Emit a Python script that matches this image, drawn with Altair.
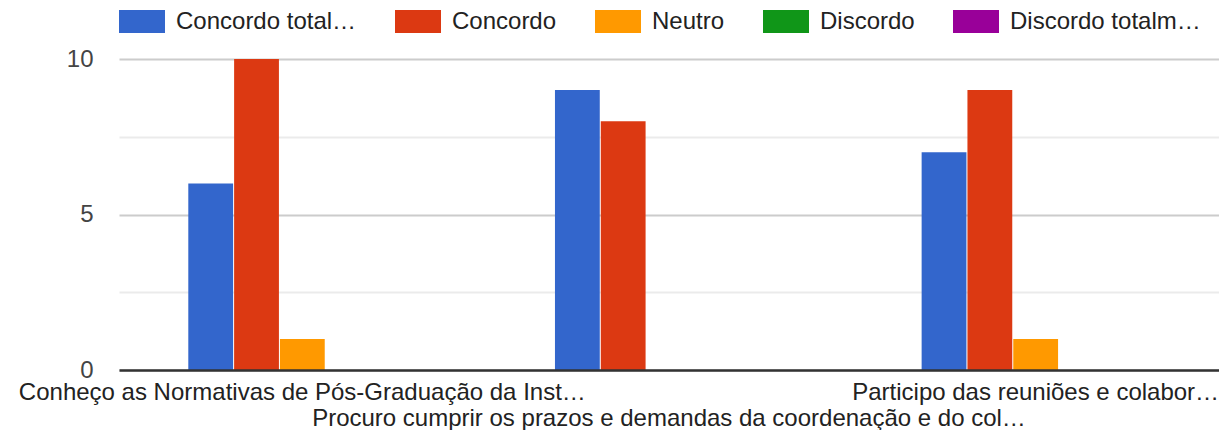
import altair as alt
import pandas as pd

questions = [
    "Conheço as Normativas de Pós-Graduação da Inst…",
    "Procuro cumprir os prazos e demandas da coordenação e do col…",
    "Participo das reuniões e colabor…",
]
answers = ["Concordo totalmente", "Concordo", "Neutro", "Discordo", "Discordo totalmente"]
colors = ["#3366cc", "#dc3912", "#ff9900", "#109618", "#990099"]

concordo_totalmente = [6, 9, 7]
concordo = [10, 8, 9]
neutro = [1, 0, 1]
discordo = [0, 0, 0]
discordo_totalmente = [0, 0, 0]

series = [concordo_totalmente, concordo, neutro, discordo, discordo_totalmente]
rows = []
for a, vals in zip(answers, series):
    for q, v in zip(questions, vals):
        rows.append({"pergunta": q, "resposta": a, "n": v})
df = pd.DataFrame(rows)

FONT = "Liberation Sans"
FS = 24

q2 = questions[1]
x_label_expr = f"datum.value == '{q2}' ? ['', datum.label] : datum.label"
legend_label_expr = (
    "datum.label == 'Concordo totalmente' ? 'Concordo total…' : "
    "datum.label == 'Discordo totalmente' ? 'Discordo totalm…' : datum.label"
)

chart = (
    alt.Chart(df)
    .mark_bar(opacity=1)
    .encode(
        x=alt.X(
            "pergunta:N",
            sort=questions,
            scale=alt.Scale(paddingInner=0.378, paddingOuter=0.189),
            axis=alt.Axis(
                title=None,
                labelAngle=0,
                labelFont=FONT,
                labelFontSize=FS,
                labelColor="#222222",
                labelPadding=10,
                labelLimit=2000,
                labelOverlap=False,
                labelLineHeight=26,
                labelExpr=x_label_expr,
                ticks=False,
                domainColor="#333333",
                domainWidth=2.5,
                zindex=1,
            ),
        ),
        xOffset=alt.XOffset(
            "resposta:N",
            sort=answers,
            scale=alt.Scale(paddingInner=0.022, paddingOuter=0),
        ),
        y=alt.Y(
            "n:Q",
            scale=alt.Scale(domain=[0, 10], nice=False),
            axis=alt.Axis(
                title=None,
                values=[0, 2.5, 5, 7.5, 10],
                labelExpr="datum.value % 5 == 0 ? datum.label : ''",
                labelFont=FONT,
                labelFontSize=FS,
                labelColor="#444444",
                labelPadding=26,
                ticks=False,
                domain=False,
                grid=True,
                gridColor={"condition": {"test": "datum.value % 5 != 0", "value": "#ebebeb"}, "value": "#cccccc"},
                gridWidth=2,
            ),
        ),
        color=alt.Color(
            "resposta:N",
            sort=answers,
            scale=alt.Scale(domain=answers, range=colors),
            legend=alt.Legend(
                title=None,
                orient="none",
                direction="horizontal",
                legendX=0,
                legendY=-60.5,
                padding=0,
                symbolType="M-1,-0.5H1V0.5H-1Z",
                symbolSize=2116,
                symbolStrokeWidth=0,
                symbolOpacity=1,
                labelFont=FONT,
                labelFontSize=FS,
                labelColor="#222222",
                labelOffset=11,
                labelLimit=1000,
                columnPadding=38,
                labelExpr=legend_label_expr,
            ),
        ),
    )
    .properties(
        width=1100,
        height=311,
        autosize=alt.AutoSizeParams(type="none"),
        padding={"left": 111, "top": 51, "right": 0, "bottom": 60},
    )
    .configure_view(stroke=None)
)

chart.save("out.html", embed_options={"renderer": "svg", "actions": False})
